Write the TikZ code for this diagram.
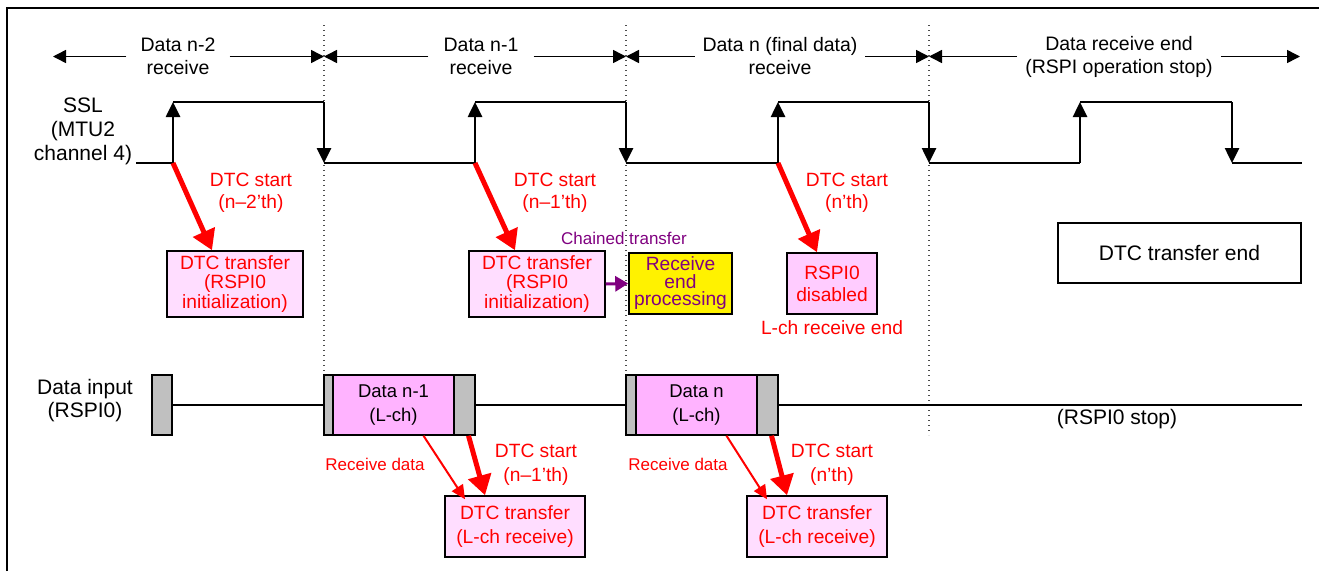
\documentclass[tikz,border=0pt]{standalone}
\usepackage{fontspec}
\setmainfont{Liberation Sans}
\usetikzlibrary{arrows.meta,calc}
\definecolor{lpink}{RGB}{255,221,255}
\definecolor{mpink}{RGB}{255,204,255}
\definecolor{dpink}{RGB}{255,179,255}
\definecolor{grayblk}{RGB}{192,192,192}
\definecolor{purp}{RGB}{128,0,128}
\definecolor{rd}{RGB}{255,0,0}
\begin{document}
\begin{tikzpicture}[x=1pt,y=-1pt,
  hdr/.style={font=\fontsize{19.5}{23}\selectfont, align=center, inner ysep=0pt},
  harrow/.style={line width=1.5pt, -{Triangle[length=13pt,width=13pt]}},
  sig/.style={line width=2.6pt},
  sigarrow/.style={line width=2.6pt, -{Triangle[length=15pt,width=14pt]}},
  dotline/.style={line width=1.2pt, dash pattern=on 1.2pt off 3.8pt, black!70},
  biglbl/.style={font=\fontsize{21}{24}\selectfont, align=center, inner sep=0pt},
  redlbl/.style={font=\fontsize{19.2}{22}\selectfont, align=center, inner sep=0pt, text=rd},
  smallred/.style={font=\fontsize{17}{20}\selectfont, inner sep=0pt, text=rd},
  pinkbox/.style={draw=black, line width=1.5pt, fill=lpink, text=rd, align=center, inner sep=0pt},
  thickred/.style={draw=rd, line width=5pt, -{Triangle[length=20pt,width=23pt]}},
  thinred/.style={draw=rd, line width=2pt, -{Triangle[length=14pt,width=13pt]}},
  blk/.style={draw=black, line width=1.5pt, minimum height=60pt, inner sep=0pt},
]
\useasboundingbox (0,0) rectangle (1319,571);
\fill[white] (0,0) rectangle (1319,571);

% frame
\draw[line width=2.2pt] (7,571) -- (7,8) -- (1319,8);

% dotted separators
\foreach \xx in {324,626,929} \draw[dotline] (\xx,25) -- (\xx,435);

% header row
\coordinate (t0) at (53,57);
\coordinate (d1) at (324,57);
\coordinate (d2) at (626,57);
\coordinate (d3) at (929,57);
\coordinate (t4) at (1300,57);
\node[hdr, inner xsep=14pt] (h1) at (178,56.5) {Data n-2\\receive};
\node[hdr, inner xsep=15pt] (h2) at (481,56.5) {Data n-1\\receive};
\node[hdr, inner xsep=7.5pt] (h3) at (780,56.5) {Data n (final data)\\receive};
\node[hdr, inner xsep=8pt] (h4) at (1119,56.5) {Data receive end\\(RSPI operation stop)};
\draw[harrow] (h1.west) -- (h1.west -| t0);
\draw[harrow] (h1.east) -- (h1.east -| d1);
\draw[harrow] (h2.west) -- (h2.west -| d1);
\draw[harrow] (h2.east) -- (h2.east -| d2);
\draw[harrow] (h3.west) -- (h3.west -| d2);
\draw[harrow] (h3.east) -- (h3.east -| d3);
\draw[harrow] (h4.west) -- (h4.west -| d3);
\draw[harrow] (h4.east) -- (h4.east -| t4);

% SSL label and waveform
\node[biglbl] (ssl) at (83,131) {SSL\\(MTU2\\channel 4)};
\coordinate (r1) at (173,163);
\coordinate (r2) at (475,163);
\coordinate (r3) at (778,163);
\draw[sig] (136,163) -- (r1);
\foreach \a/\b in {173/324,475/626,778/929,1080/1232} \draw[sig] (\a,102) -- (\b,102);
\foreach \a/\b in {324/475,626/778,929/1080} \draw[sig] (\a,163) -- (\b,163);
\draw[sig] (1232,163) -- (1302,163);
\foreach \xx in {173,475,778,1080} \draw[sigarrow] (\xx,163) -- (\xx,102);
\foreach \xx in {324,626,929,1232} \draw[sigarrow] (\xx,102) -- (\xx,163);

% DTC start labels (top)
\node[redlbl] (s1) at (251,193) {DTC start\\(n--2'th)};
\node[redlbl] (s2) at (555,193) {DTC start\\(n--1'th)};
\node[redlbl] (s3) at (847,193) {DTC start\\(n'th)};

% boxes (top)
\node[pinkbox, minimum width=136pt, minimum height=66pt, font=\fontsize{19.2}{19.5}\selectfont] (initA) at (235,284) {DTC transfer\\(RSPI0\\initialization)};
\node[pinkbox, minimum width=136pt, minimum height=66pt, font=\fontsize{19.2}{19.5}\selectfont] (initB) at (537,284) {DTC transfer\\(RSPI0\\initialization)};
\node[draw=black, line width=1.5pt, fill=yellow, text=purp, align=center, inner sep=0pt, minimum width=103pt, minimum height=61pt, font=\fontsize{19.2}{17.5}\selectfont] (recv) at (680.5,283.5) {Receive\\end\\processing};
\node[pinkbox, fill=mpink, minimum width=90pt, minimum height=61pt, font=\fontsize{19.2}{22}\selectfont] (dis) at (832,283.5) {RSPI0\\disabled};
\node[draw=black, line width=1.5pt, fill=white, minimum width=243pt, minimum height=60pt, inner sep=0pt, font=\fontsize{21}{24}\selectfont] (endbox) at (1179.5,253) {DTC transfer end};
\node[font=\fontsize{17}{20}\selectfont, text=purp, inner sep=0pt] (chain) at (624,238) {Chained transfer};
\node[redlbl] (lend) at (832,328) {L-ch receive end};

\draw[thickred] (r1) -- ($(initA.north)+(-23,0)$);
\draw[thickred] (r2) -- ($(initB.north)+(-22,0)$);
\draw[thickred] (r3) -- ($(dis.north)+(-15,0)$);
\draw[draw=purp, line width=3pt, -{Triangle[length=13pt,width=15pt]}] (initB.east) -- (recv.west);

% data input row
\node[biglbl, font=\fontsize{21}{23}\selectfont] (din) at (85,401) {Data input\\(RSPI0)};
\node[blk, fill=grayblk, minimum width=20pt] (g0) at (162,405) {};
\node[blk, fill=grayblk, minimum width=9pt] (g1l) at (328.5,405) {};
\node[blk, fill=dpink, minimum width=121pt, align=center, font=\fontsize{18.5}{24}\selectfont] (p1) at (393.5,405) {Data n-1\\(L-ch)};
\node[blk, fill=grayblk, minimum width=21pt] (g1r) at (464.5,405) {};
\node[blk, fill=grayblk, minimum width=10pt] (g2l) at (631,405) {};
\node[blk, fill=dpink, minimum width=121pt, align=center, font=\fontsize{18.5}{24}\selectfont] (p2) at (696.5,405) {Data n\\(L-ch)};
\node[blk, fill=grayblk, minimum width=21pt] (g2r) at (767.5,405) {};
\coordinate (dend) at (1302,405);
\draw[line width=1.3pt] (g0.east) -- (g1l.west);
\draw[line width=1.3pt] (g1r.east) -- (g2l.west);
\draw[line width=1.3pt] (g2r.east) -- (dend);
\node[biglbl] (stop) at (1117,419) {(RSPI0 stop)};

% lower boxes
\node[pinkbox, minimum width=140pt, minimum height=61pt, font=\fontsize{19.2}{24}\selectfont] (lch1) at (515,526.5) {DTC transfer\\(L-ch receive)};
\node[pinkbox, minimum width=140pt, minimum height=61pt, font=\fontsize{19.2}{24}\selectfont] (lch2) at (817,526.5) {DTC transfer\\(L-ch receive)};
\node[smallred] (rd1) at (375,464) {Receive data};
\node[smallred] (rd2) at (678,464) {Receive data};
\node[redlbl, font=\fontsize{19.2}{24}\selectfont] (s4) at (536,465) {DTC start\\(n--1'th)};
\node[redlbl, font=\fontsize{19.2}{24}\selectfont] (s5) at (832,465) {DTC start\\(n'th)};

\draw[thinred] ($(p1.south)+(30,0)$) -- ($(lch1.north)+(-50,4)$);
\draw[thickred] ($(g1r.south)+(4,0)$) -- ($(lch1.north)+(-30,0)$);
\draw[thinred] ($(p2.south)+(30,0)$) -- ($(lch2.north)+(-50,4)$);
\draw[thickred] ($(g2r.south)+(4,0)$) -- ($(lch2.north)+(-30,0)$);
\end{tikzpicture}
\end{document}
